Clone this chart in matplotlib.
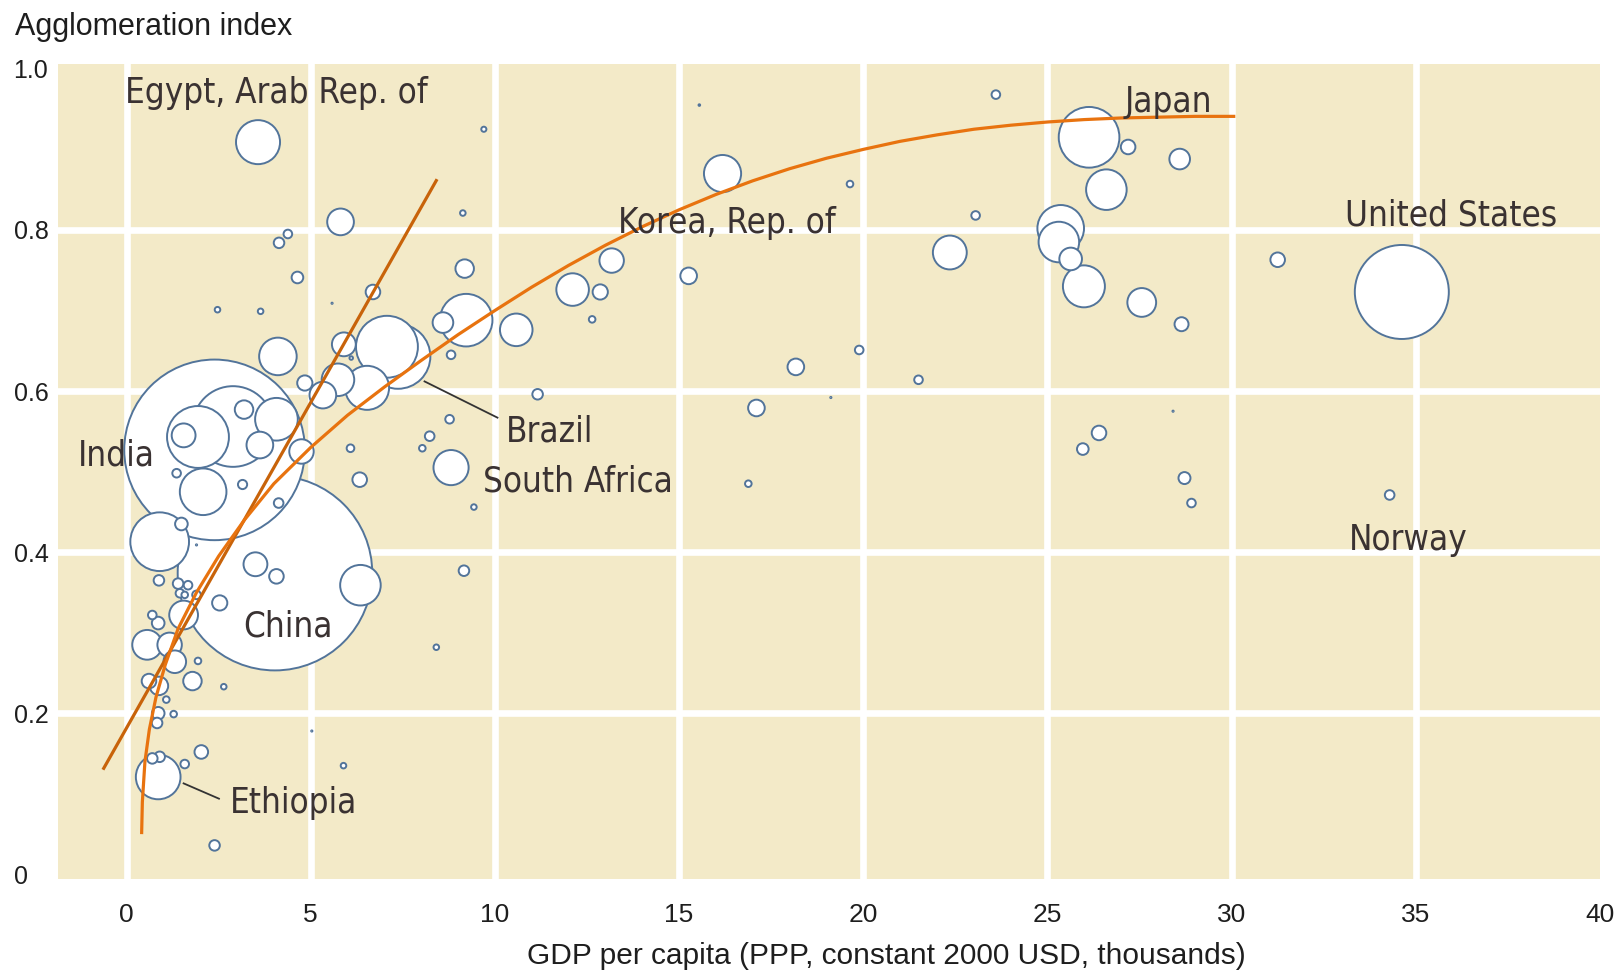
import numpy as np
import matplotlib.pyplot as plt

# GDP per capita (PPP, thousands), agglomeration index, population (millions)
gdp = [3.57, 9.70, 5.81, 9.13, 4.38, 4.14, 4.64, 9.18, 6.69, 2.47,
       3.64, 5.58, 4.11, 9.22, 8.59, 10.58, 4.84, 7.07, 7.37, 5.90,
       6.10, 5.74, 6.53, 5.33, 8.81, 11.16, 8.77, 8.23, 8.03, 6.08,
       8.81, 6.33, 4.07, 4.75, 2.39, 2.89, 1.94, 1.55, 3.19, 3.62,
       2.08, 1.36, 3.15, 4.13, 0.90, 1.49, 1.90, 3.50, 4.07, 4.03,
       6.35, 0.88, 1.40, 1.67, 2.53, 1.55, 1.45, 1.58, 1.90, 0.70,
       0.86, 0.56, 1.17, 1.94, 1.31, 2.64, 1.79, 0.61, 0.88, 1.08,
       0.86, 1.28, 0.83, 2.03, 0.86, 0.90, 0.70, 1.58, 2.39, 5.03,
       5.89, 8.41, 16.18, 19.64, 13.17, 12.11, 12.86, 15.26, 12.64, 18.17,
       19.89, 19.12, 17.10, 16.88, 9.43, 9.16, 15.55, 23.60, 26.13, 27.19,
       28.59, 26.60, 23.05, 25.36, 25.31, 25.63, 25.99, 22.35, 27.56, 28.64,
       21.50, 31.25, 28.41, 26.40, 25.96, 28.72, 28.91, 34.29, 34.62]
agg = [0.909, 0.925, 0.810, 0.821, 0.795, 0.784, 0.741, 0.752, 0.723, 0.701,
       0.699, 0.709, 0.643, 0.688, 0.685, 0.676, 0.610, 0.655, 0.643, 0.658,
       0.641, 0.614, 0.604, 0.595, 0.645, 0.596, 0.565, 0.544, 0.529, 0.529,
       0.505, 0.490, 0.565, 0.525, 0.527, 0.556, 0.543, 0.545, 0.577, 0.533,
       0.475, 0.498, 0.484, 0.461, 0.413, 0.435, 0.409, 0.385, 0.370, 0.374,
       0.359, 0.365, 0.361, 0.359, 0.337, 0.322, 0.349, 0.347, 0.347, 0.322,
       0.312, 0.285, 0.285, 0.265, 0.264, 0.233, 0.240, 0.240, 0.234, 0.217,
       0.200, 0.199, 0.188, 0.152, 0.121, 0.146, 0.144, 0.137, 0.036, 0.178,
       0.135, 0.282, 0.870, 0.857, 0.762, 0.726, 0.723, 0.743, 0.689, 0.630,
       0.651, 0.592, 0.579, 0.485, 0.456, 0.377, 0.955, 0.968, 0.915, 0.903,
       0.888, 0.850, 0.818, 0.802, 0.785, 0.764, 0.730, 0.772, 0.710, 0.683,
       0.614, 0.763, 0.575, 0.548, 0.528, 0.492, 0.461, 0.471, 0.723]
pop = [68, 1.4, 26, 1.6, 3.3, 4.7, 5.6, 13, 8.4, 1.6,
       1.6, 0.22, 50, 96, 16, 38, 9.1, 132, 144, 21,
       0.8, 38, 68, 26, 3.3, 4.7, 3.3, 4.0, 2.1, 2.7,
       44, 8.4, 64, 22, 1092, 222, 132, 21, 13, 26,
       76, 3.3, 3.7, 4.0, 119, 6.5, 0.19, 21, 8.4, 1266,
       58, 4.7, 4.7, 3.3, 9.1, 30, 3.3, 2.1, 3.3, 3.3,
       6.5, 32, 22, 2.1, 19, 1.6, 13, 8.4, 13, 2.1,
       6.5, 2.1, 4.7, 7.4, 70, 4.7, 4.7, 3.3, 4.7, 0.22,
       1.6, 1.6, 49, 2.1, 22, 38, 9.1, 10.7, 2.1, 10.7,
       3.3, 0.22, 10.7, 2.1, 1.6, 4.7, 0.3, 3.3, 127, 8.4,
       16, 58, 3.3, 76, 58, 19, 62, 41, 30, 7.8,
       3.3, 8.4, 0.22, 8.4, 5.6, 5.9, 3.3, 4.0, 300]

# trend lines
line_x = [-0.64, 8.43]
line_y = [0.130, 0.863]
curve_x = [0.41, 0.43, 0.50, 0.62, 0.80, 1.05, 1.4, 1.9, 2.5, 3.2, 4.0, 5.0, 6.0, 7.0,
           8.0, 9.0, 10.0, 11.0, 12.0, 13.0, 14.0, 15.0, 16.0, 17.0, 18.0, 19.0, 20.0,
           21.0, 22.0, 23.0, 24.0, 25.0, 26.0, 27.0, 28.0, 29.0, 30.1]
curve_y = [0.05, 0.09, 0.14, 0.18, 0.22, 0.26, 0.305, 0.35, 0.395, 0.44, 0.485, 0.53, 0.57, 0.605,
           0.638, 0.670, 0.700, 0.729, 0.756, 0.781, 0.804, 0.825, 0.844, 0.861, 0.876, 0.889, 0.900,
           0.910, 0.918, 0.925, 0.930, 0.934, 0.937, 0.939, 0.940, 0.941, 0.941]

names = ["Egypt, Arab Rep. of", "Japan", "Korea, Rep. of", "United States", "Norway",
         "India", "China", "Brazil", "South Africa", "Ethiopia"]
name_x = [-0.05, 27.08, 13.33, 33.09, 33.18, -1.31, 3.16, 10.31, 9.67, 2.80]
name_y = [0.957, 0.946, 0.796, 0.806, 0.403, 0.507, 0.295, 0.537, 0.475, 0.076]

x_ticks = [0, 5, 10, 15, 20, 25, 30, 35, 40]
y_ticks = [0, 0.2, 0.4, 0.6, 0.8, 1.0]
y_tick_labels = ['0', '0.2', '0.4', '0.6', '0.8', '1.0']

fig = plt.figure(figsize=(16.14, 9.72), dpi=100)
ax = fig.add_axes([58 / 1614, 1 - 879 / 972, 1542 / 1614, 815 / 972])
ax.set_facecolor('#F3EAC8')
for sp in ax.spines.values():
    sp.set_visible(False)
ax.set_xlim(-1.86, 39.96)
ax.set_ylim(-0.0057, 1.006)

ax.set_xticks(x_ticks)
ax.set_xticklabels([str(v) for v in x_ticks], family='Liberation Sans', fontsize=19, color='#1E1E1E')
ax.set_yticks(y_ticks)
ax.set_yticklabels(y_tick_labels, family='Liberation Sans', fontsize=18, color='#1E1E1E', ha='left')
ax.tick_params(axis='x', length=0, pad=17)
ax.tick_params(axis='y', length=0, pad=32)

for v in x_ticks[:-1]:
    ax.axvline(v, color='white', lw=4.8, zorder=0.5)
for v in y_ticks[1:-1]:
    ax.axhline(v, color='white', lw=4.8, zorder=0.5)

# bubbles: area proportional to population, biggest drawn first
gdp_a, agg_a, pop_a = np.array(gdp), np.array(agg), np.array(pop)
order = np.argsort(pop_a)[::-1]
radius_px = 47.7 * np.sqrt(pop_a / 300.0)
diam_pt = 2 * np.maximum(radius_px - 0.7, 0.6) * 72 / 100
ax.scatter(gdp_a[order], agg_a[order], s=diam_pt[order] ** 2, facecolor='white',
           edgecolor='#52749A', linewidth=1.4, zorder=2)

ax.plot(line_x, line_y, color='#C8630A', lw=2.3, zorder=3, solid_capstyle='butt')
ax.plot(curve_x, curve_y, color='#E8730F', lw=2.3, zorder=3, solid_capstyle='butt')

# leader lines
ax.plot([8.09, 10.07], [0.612, 0.567], color='#333333', lw=1.3, zorder=3)
ax.plot([1.55, 2.51], [0.113, 0.094], color='#333333', lw=1.3, zorder=3)

for n, x, y in zip(names, name_x, name_y):
    ax.text(x, y, n, family='DejaVu Sans', fontstretch='condensed', fontsize=25,
            color='#3A3232', ha='left', va='baseline', zorder=4)

fig.text(15 / 1614, 1 - 35 / 972, 'Agglomeration index', family='Liberation Sans',
         fontsize=22, color='#1E1E1E', ha='left', va='baseline')
fig.text(886 / 1614, 1 - 956 / 972, 'GDP per capita (PPP, constant 2000 USD, thousands)',
         family='Liberation Sans', fontsize=21.5, color='#1E1E1E', ha='center', va='center')

fig.savefig('out.png', dpi=100)
